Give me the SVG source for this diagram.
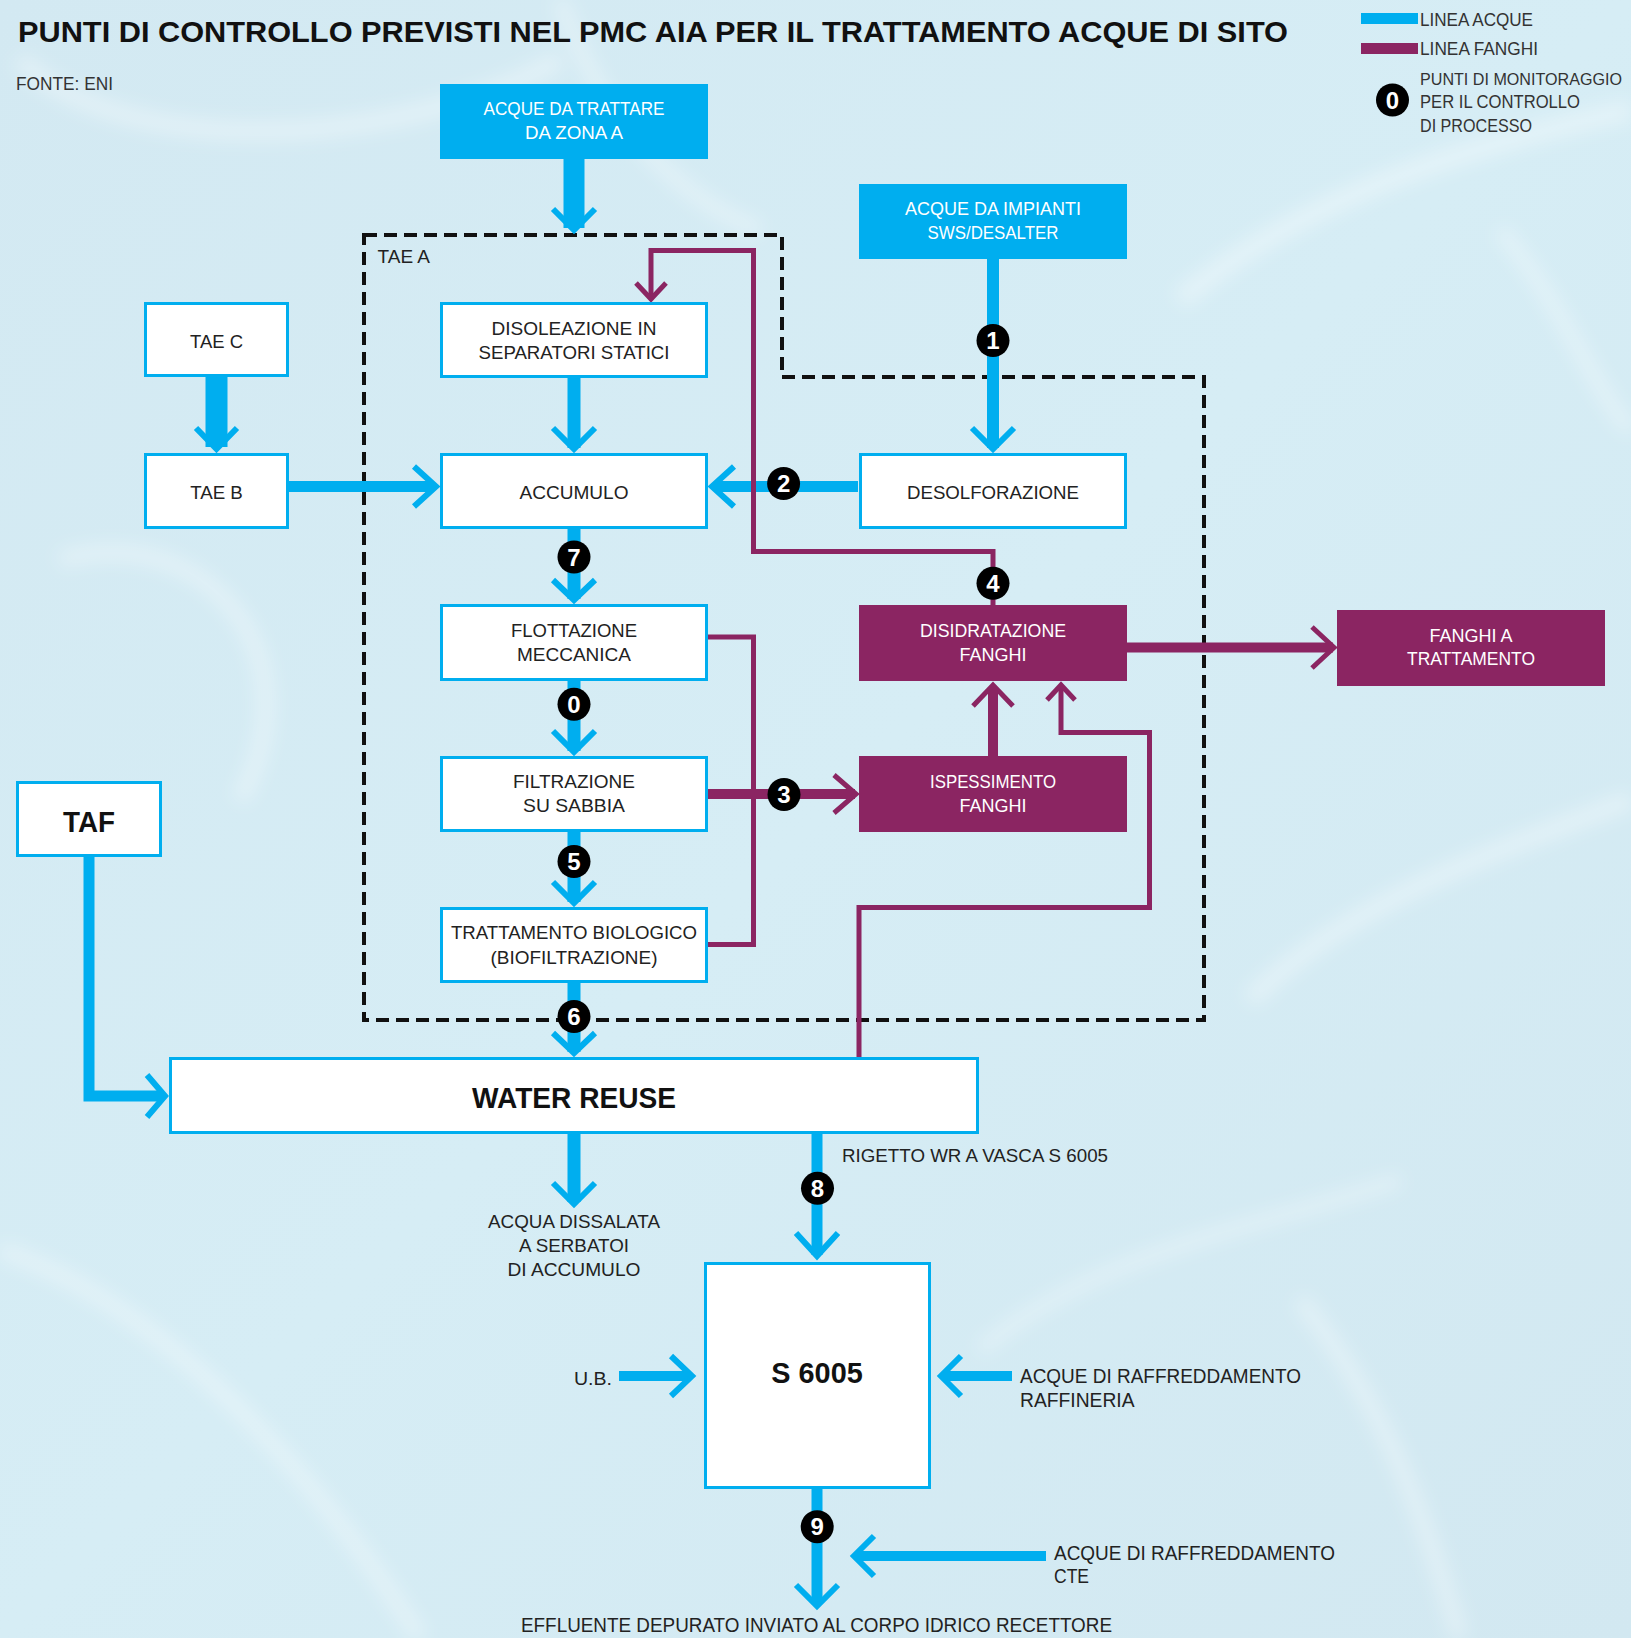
<svg xmlns="http://www.w3.org/2000/svg" width="1631" height="1638" viewBox="0 0 1631 1638">
<defs>
<style>
.t{font-family:"Liberation Sans",Arial,sans-serif;font-size:19px;fill:#222}
.tm{text-anchor:middle}
.tw{font-family:"Liberation Sans",Arial,sans-serif;font-size:19px;fill:#fff;text-anchor:middle}
.tb{font-family:"Liberation Sans",Arial,sans-serif;font-size:30px;font-weight:bold;fill:#111;text-anchor:middle}
.ttl{font-family:"Liberation Sans",Arial,sans-serif;font-size:30px;font-weight:bold;fill:#111}
.lg{font-family:"Liberation Sans",Arial,sans-serif;font-size:17.5px;fill:#333}
.bx{fill:#fff;stroke:#00aeef;stroke-width:3}
.bb{fill:#00aeef}
.bp{fill:#8b2562}
.lb{fill:none;stroke:#00aeef;stroke-linejoin:miter}
.lp{fill:none;stroke:#8b2562;stroke-linejoin:miter}
.cb{fill:none;stroke:#00aeef;stroke-width:6;stroke-linejoin:miter}
.cp{fill:none;stroke:#8b2562;stroke-width:5;stroke-linejoin:miter}
.bd{fill:#000}
.bn{font-family:"Liberation Sans",Arial,sans-serif;font-size:24px;font-weight:bold;fill:#fff;text-anchor:middle}
.dash{fill:none;stroke:#111;stroke-width:4;stroke-dasharray:13 7}
</style>
<linearGradient id="bg" x1="0" y1="0" x2="1" y2="1">
<stop offset="0" stop-color="#d3e9f2"/>
<stop offset="0.5" stop-color="#d6edf5"/>
<stop offset="1" stop-color="#d2e8f1"/>
</linearGradient>
<filter id="blur" x="-20%" y="-20%" width="140%" height="140%"><feGaussianBlur stdDeviation="9"/></filter>
</defs>

<rect width="1631" height="1638" fill="url(#bg)"/>
<g id="swirls" filter="url(#blur)" fill="none" stroke="#ffffff" stroke-opacity="0.35">
<path d="M20 60 C120 160 400 150 560 60" stroke-width="18"/>
<path d="M560 0 C600 120 680 200 760 230" stroke-width="14"/>
<path d="M1180 300 C1300 200 1450 150 1631 110" stroke-width="20"/>
<path d="M1500 230 C1560 300 1600 400 1631 430" stroke-width="14"/>
<path d="M60 560 C200 520 320 650 240 800" stroke-width="16"/>
<path d="M1250 1000 C1350 900 1500 850 1631 800" stroke-width="18"/>
<path d="M1300 1300 C1380 1400 1420 1500 1460 1638" stroke-width="16"/>
<path d="M980 1350 C1100 1250 1250 1230 1400 1180" stroke-width="12"/>
<path d="M0 1250 C150 1300 300 1450 420 1638" stroke-width="16"/>
</g>

<g id="title">
<text class="ttl" x="18" y="42" textLength="1270" lengthAdjust="spacingAndGlyphs">PUNTI DI CONTROLLO PREVISTI NEL PMC AIA PER IL TRATTAMENTO ACQUE DI SITO</text>
<text class="t" x="16" y="90" style="font-size:18px;fill:#333" textLength="97" lengthAdjust="spacingAndGlyphs">FONTE: ENI</text>
</g>

<g id="legend">
<rect x="1361" y="13" width="57" height="11" class="bb"/>
<text class="lg" x="1420" y="26" textLength="113" lengthAdjust="spacingAndGlyphs">LINEA ACQUE</text>
<rect x="1361" y="43" width="57" height="11" class="bp"/>
<text class="lg" x="1420" y="55" textLength="118" lengthAdjust="spacingAndGlyphs">LINEA FANGHI</text>
<circle cx="1392.5" cy="100" r="16.5" class="bd"/>
<text class="bn" x="1392.5" y="108.5">0</text>
<text class="lg" x="1420" y="85" style="font-size:16px" textLength="202" lengthAdjust="spacingAndGlyphs">PUNTI DI MONITORAGGIO</text>
<text class="lg" x="1420" y="108" textLength="160" lengthAdjust="spacingAndGlyphs">PER IL CONTROLLO</text>
<text class="lg" x="1420" y="132" textLength="112" lengthAdjust="spacingAndGlyphs">DI PROCESSO</text>
</g>

<g id="tae-a-boundary">
<path class="dash" d="M364 235 H782 V377 H1204 V1020 H364 Z"/>
<text class="t" x="377.6" y="263.3" textLength="52.4" lengthAdjust="spacingAndGlyphs">TAE A</text>
</g>

<g id="connectors">
<line class="lb" x1="574" y1="159" x2="574" y2="228" stroke-width="21"/>
<polyline class="cb" points="553,209 574,230 595,209" stroke-width="7"/>
<line class="lb" x1="216.5" y1="377" x2="216.5" y2="447" stroke-width="22"/>
<polyline class="cb" points="196,428 216.5,449 237,428" stroke-width="7"/>
<line class="lb" x1="574" y1="378" x2="574" y2="448" stroke-width="13"/>
<polyline class="cb" points="553,428 574,449 595,428"/>
<line class="lb" x1="993" y1="259" x2="993" y2="448" stroke-width="12"/>
<polyline class="cb" points="972,428 993,449 1014,428"/>
<line class="lb" x1="289" y1="486.5" x2="434" y2="486.5" stroke-width="11"/>
<polyline class="cb" points="414,466.5 436,486.5 414,506.5"/>
<line class="lb" x1="858" y1="486.5" x2="714" y2="486.5" stroke-width="11"/>
<polyline class="cb" points="734,466.5 712,486.5 734,506.5"/>
<line class="lb" x1="574" y1="529" x2="574" y2="599" stroke-width="13"/>
<polyline class="cb" points="553,580 574,600 595,580"/>
<line class="lb" x1="574" y1="681" x2="574" y2="751" stroke-width="13"/>
<polyline class="cb" points="553,731 574,752 595,731"/>
<line class="lb" x1="574" y1="832" x2="574" y2="902" stroke-width="13"/>
<polyline class="cb" points="553,882 574,903 595,882"/>
<line class="lb" x1="574" y1="983" x2="574" y2="1052" stroke-width="13"/>
<polyline class="cb" points="553,1033 574,1053 595,1033"/>
<path class="lb" d="M89 857 V1096 H163" stroke-width="11"/>
<polyline class="cb" points="147,1075 165,1096 147,1117"/>
<line class="lb" x1="574" y1="1134" x2="574" y2="1202" stroke-width="13"/>
<polyline class="cb" points="553,1183 574,1204 595,1183"/>
<line class="lb" x1="817" y1="1134" x2="817" y2="1255" stroke-width="11"/>
<polyline class="cb" points="796,1233 817,1256 838,1233"/>
<line class="lb" x1="619" y1="1376" x2="690" y2="1376" stroke-width="10"/>
<polyline class="cb" points="671,1356 692,1376 671,1396"/>
<line class="lb" x1="1012" y1="1376" x2="943" y2="1376" stroke-width="10"/>
<polyline class="cb" points="961,1356 941,1376 961,1396"/>
<line class="lb" x1="817" y1="1489" x2="817" y2="1604" stroke-width="11"/>
<polyline class="cb" points="796,1585 817,1606 838,1585"/>
<line class="lb" x1="1046" y1="1556" x2="856" y2="1556" stroke-width="10"/>
<polyline class="cb" points="874,1536 854,1556 874,1576"/>
<path class="lp" d="M993 605 V551.5 H753.5 V250.5 H651 V297" stroke-width="5"/>
<polyline class="cp" points="636,283 651,299 666,283"/>
<path class="lp" d="M708 637 H753.5 V944.5 H708" stroke-width="5"/>
<line class="lp" x1="708" y1="794" x2="855" y2="794" stroke-width="10"/>
<polyline class="cp" points="834,775 856,794 834,813"/>
<line class="lp" x1="993" y1="756" x2="993" y2="687" stroke-width="10"/>
<polyline class="cp" points="973,706 993,685 1013,706" stroke-width="6"/>
<path class="lp" d="M859 1057 V907.5 H1149.5 V732.5 H1061 V687" stroke-width="5"/>
<polyline class="cp" points="1047,700 1061,685 1075,700"/>
<line class="lp" x1="1127" y1="647.5" x2="1333" y2="647.5" stroke-width="10"/>
<polyline class="cp" points="1312,627 1334,647.5 1312,668" stroke-width="6"/>
</g>

<g id="src-zona-a">
<rect x="440" y="84" width="268" height="75" class="bb"/>
<text class="tw" x="574" y="115" textLength="181" lengthAdjust="spacingAndGlyphs">ACQUE DA TRATTARE</text>
<text class="tw" x="574" y="139" textLength="98" lengthAdjust="spacingAndGlyphs">DA ZONA A</text>
</g>
<g id="src-sws">
<rect x="859" y="184" width="268" height="75" class="bb"/>
<text class="tw" x="993" y="215" textLength="176" lengthAdjust="spacingAndGlyphs">ACQUE DA IMPIANTI</text>
<text class="tw" x="993" y="239" textLength="131" lengthAdjust="spacingAndGlyphs">SWS/DESALTER</text>
</g>
<g id="tae-c">
<rect x="145.5" y="303.5" width="142" height="72" class="bx"/>
<text class="t tm" x="216.5" y="347.7" textLength="53" lengthAdjust="spacingAndGlyphs">TAE C</text>
</g>
<g id="disoleazione">
<rect x="441.5" y="303.5" width="265" height="73" class="bx"/>
<text class="t tm" x="574" y="335" textLength="165" lengthAdjust="spacingAndGlyphs">DISOLEAZIONE IN</text>
<text class="t tm" x="574" y="358.5" textLength="191" lengthAdjust="spacingAndGlyphs">SEPARATORI STATICI</text>
</g>
<g id="tae-b">
<rect x="145.5" y="454.5" width="142" height="73" class="bx"/>
<text class="t tm" x="216.5" y="499" textLength="52.7" lengthAdjust="spacingAndGlyphs">TAE B</text>
</g>
<g id="accumulo">
<rect x="441.5" y="454.5" width="265" height="73" class="bx"/>
<text class="t tm" x="574" y="499" textLength="109" lengthAdjust="spacingAndGlyphs">ACCUMULO</text>
</g>
<g id="desolforazione">
<rect x="860.5" y="454.5" width="265" height="73" class="bx"/>
<text class="t tm" x="993" y="499" textLength="172" lengthAdjust="spacingAndGlyphs">DESOLFORAZIONE</text>
</g>
<g id="flottazione">
<rect x="441.5" y="605.5" width="265" height="74" class="bx"/>
<text class="t tm" x="574" y="637" textLength="126" lengthAdjust="spacingAndGlyphs">FLOTTAZIONE</text>
<text class="t tm" x="574" y="661" textLength="114" lengthAdjust="spacingAndGlyphs">MECCANICA</text>
</g>
<g id="disidratazione">
<rect x="859" y="605" width="268" height="76" class="bp"/>
<text class="tw" x="993" y="637" textLength="146" lengthAdjust="spacingAndGlyphs">DISIDRATAZIONE</text>
<text class="tw" x="993" y="661" textLength="67" lengthAdjust="spacingAndGlyphs">FANGHI</text>
</g>
<g id="fanghi-trattamento">
<rect x="1337" y="610" width="268" height="76" class="bp"/>
<text class="tw" x="1471" y="642" textLength="83" lengthAdjust="spacingAndGlyphs">FANGHI A</text>
<text class="tw" x="1471" y="665" textLength="128" lengthAdjust="spacingAndGlyphs">TRATTAMENTO</text>
</g>
<g id="filtrazione">
<rect x="441.5" y="757.5" width="265" height="73" class="bx"/>
<text class="t tm" x="574" y="788" textLength="122" lengthAdjust="spacingAndGlyphs">FILTRAZIONE</text>
<text class="t tm" x="574" y="812" textLength="102" lengthAdjust="spacingAndGlyphs">SU SABBIA</text>
</g>
<g id="ispessimento">
<rect x="859" y="756" width="268" height="76" class="bp"/>
<text class="tw" x="993" y="788" textLength="126" lengthAdjust="spacingAndGlyphs">ISPESSIMENTO</text>
<text class="tw" x="993" y="812" textLength="67" lengthAdjust="spacingAndGlyphs">FANGHI</text>
</g>
<g id="taf">
<rect x="17.5" y="782.5" width="143" height="73" class="bx"/>
<text class="tb" x="89" y="832" textLength="52" lengthAdjust="spacingAndGlyphs">TAF</text>
</g>
<g id="biologico">
<rect x="441.5" y="908.5" width="265" height="73" class="bx"/>
<text class="t tm" x="574" y="939" textLength="246" lengthAdjust="spacingAndGlyphs">TRATTAMENTO BIOLOGICO</text>
<text class="t tm" x="574" y="964" textLength="167" lengthAdjust="spacingAndGlyphs">(BIOFILTRAZIONE)</text>
</g>
<g id="water-reuse">
<rect x="170.5" y="1058.5" width="807" height="74" class="bx"/>
<text class="tb" x="574" y="1108" textLength="204" lengthAdjust="spacingAndGlyphs">WATER REUSE</text>
</g>
<g id="s6005">
<rect x="705.5" y="1263.5" width="224" height="224" class="bx"/>
<text class="tb" x="817" y="1383" textLength="91.5" lengthAdjust="spacingAndGlyphs">S 6005</text>
</g>

<g id="labels">
<text class="t" x="842" y="1162" textLength="266" lengthAdjust="spacingAndGlyphs">RIGETTO WR A VASCA S 6005</text>
<text class="t tm" x="574" y="1228" textLength="172" lengthAdjust="spacingAndGlyphs">ACQUA DISSALATA</text>
<text class="t tm" x="574" y="1252" textLength="110" lengthAdjust="spacingAndGlyphs">A SERBATOI</text>
<text class="t tm" x="574" y="1276" textLength="133" lengthAdjust="spacingAndGlyphs">DI ACCUMULO</text>
<text class="t" x="574" y="1385" textLength="38" lengthAdjust="spacingAndGlyphs">U.B.</text>
<text class="t" x="1020" y="1383" style="font-size:20px" textLength="281" lengthAdjust="spacingAndGlyphs">ACQUE DI RAFFREDDAMENTO</text>
<text class="t" x="1020" y="1407" style="font-size:20px" textLength="114.5" lengthAdjust="spacingAndGlyphs">RAFFINERIA</text>
<text class="t" x="1054" y="1560" style="font-size:20px" textLength="281" lengthAdjust="spacingAndGlyphs">ACQUE DI RAFFREDDAMENTO</text>
<text class="t" x="1054" y="1583" style="font-size:20px" textLength="35" lengthAdjust="spacingAndGlyphs">CTE</text>
<text class="t" x="521" y="1632" style="font-size:20px" textLength="591" lengthAdjust="spacingAndGlyphs">EFFLUENTE DEPURATO INVIATO AL CORPO IDRICO RECETTORE</text>
</g>

<g id="monitoring-points">
<circle cx="993" cy="340.5" r="16.5" class="bd"/><text class="bn" x="993" y="349">1</text>
<circle cx="783.6" cy="483.5" r="16.5" class="bd"/><text class="bn" x="783.6" y="492">2</text>
<circle cx="574" cy="557" r="16.5" class="bd"/><text class="bn" x="574" y="565.5">7</text>
<circle cx="993" cy="583.3" r="16.5" class="bd"/><text class="bn" x="993" y="591.8">4</text>
<circle cx="574" cy="704.3" r="16.5" class="bd"/><text class="bn" x="574" y="712.8">0</text>
<circle cx="784" cy="794.5" r="16.5" class="bd"/><text class="bn" x="784" y="803">3</text>
<circle cx="574" cy="861.5" r="16.5" class="bd"/><text class="bn" x="574" y="870">5</text>
<circle cx="574" cy="1016.5" r="16.5" class="bd"/><text class="bn" x="574" y="1025">6</text>
<circle cx="817.5" cy="1188.3" r="16.5" class="bd"/><text class="bn" x="817.5" y="1196.8">8</text>
<circle cx="817.2" cy="1526.7" r="16.5" class="bd"/><text class="bn" x="817.2" y="1535.2">9</text>
</g>
</svg>
